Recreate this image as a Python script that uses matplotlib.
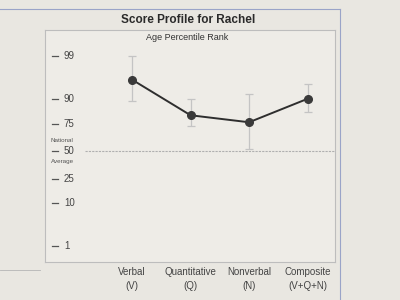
import matplotlib
matplotlib.use("Agg")
import matplotlib.pyplot as plt
import matplotlib.transforms as mtransforms
from statistics import NormalDist

plt.rcParams['font.family'] = ['Liberation Sans', 'DejaVu Sans']

# data (percentile ranks)
categories = ["Verbal\n(V)", "Quantitative\n(Q)", "Nonverbal\n(N)", "Composite\n(V+Q+N)"]
scores = [96, 81, 76, 90]
band_low = [89, 73, 52, 83]
band_high = [99, 90, 92, 95]
tick_values = [1, 10, 25, 50, 75, 90, 99]

nd = NormalDist()

def z(p):
    return nd.inv_cdf(p / 100.0)

paper = "#e9e7e1"
fig = plt.figure(figsize=(4, 3), dpi=100, facecolor=paper)

# outer page lines
fig.add_artist(plt.Line2D([0, 0.85], [0.97, 0.97], color="#9aa4c8", lw=0.8))
fig.add_artist(plt.Line2D([0.85, 0.85], [0.0, 0.97], color="#9aa4c8", lw=0.8))
fig.add_artist(plt.Line2D([0, 0.1], [0.1, 0.1], color="#b5b5b5", lw=0.6))

ax = fig.add_axes([0.1125, 0.127, 0.725, 0.773])
ax.set_facecolor("#eeece7")
for s in ax.spines.values():
    s.set_color("#bdbdbd")
    s.set_linewidth(0.8)

xs = list(range(len(categories)))
zs = [z(v) for v in scores]
lo = [z(v) for v in band_low]
hi = [z(v) for v in band_high]

# national average line
ax.plot([-0.8, 3.47], [z(50), z(50)], color="#b0b0b0", lw=0.8, ls=(0, (2, 1)))

ax.errorbar(xs, zs, yerr=[[a - b for a, b in zip(zs, lo)], [b - a for a, b in zip(zs, hi)]],
            fmt="none", ecolor="#c4c4c4", elinewidth=0.9, capsize=3, capthick=0.9)
ax.plot(xs, zs, color="#2e2e2e", lw=1.4, marker="o", ms=5.5, mfc="#3a3a3a", mec="#3a3a3a")

ax.set_xlim(-1.49, 3.47)
ax.set_ylim(-2.72, 2.97)
ax.set_xticks([])
ax.set_yticks([])

trans = mtransforms.blended_transform_factory(ax.transAxes, ax.transData)
for v in tick_values:
    ax.plot([0.025, 0.045], [z(v), z(v)], transform=trans, color="#555555", lw=0.9)
    ax.text(0.065, z(v), str(v), transform=trans, ha="left", va="center",
            fontsize=7, color="#444444")
ax.text(0.06, z(50) + 0.2, "National", transform=trans, ha="center", va="bottom",
        fontsize=4.5, color="#555555")
ax.text(0.06, z(50) - 0.2, "Average", transform=trans, ha="center", va="top",
        fontsize=4.5, color="#555555")

ax.text(0.49, 0.985, "Age Percentile Rank", transform=ax.transAxes, ha="center", va="top",
        fontsize=6.5, color="#333333")

for x, lab in zip(xs, categories):
    ax.text(x, -2.85, lab, ha="center", va="top", fontsize=7, color="#444444",
            linespacing=1.5, clip_on=False)

fig.text(0.47, 0.933, "Score Profile for Rachel", ha="center", va="center",
         fontsize=8.5, fontweight="bold", color="#2a2a2a")

fig.savefig("out.png", dpi=100, facecolor=paper)
